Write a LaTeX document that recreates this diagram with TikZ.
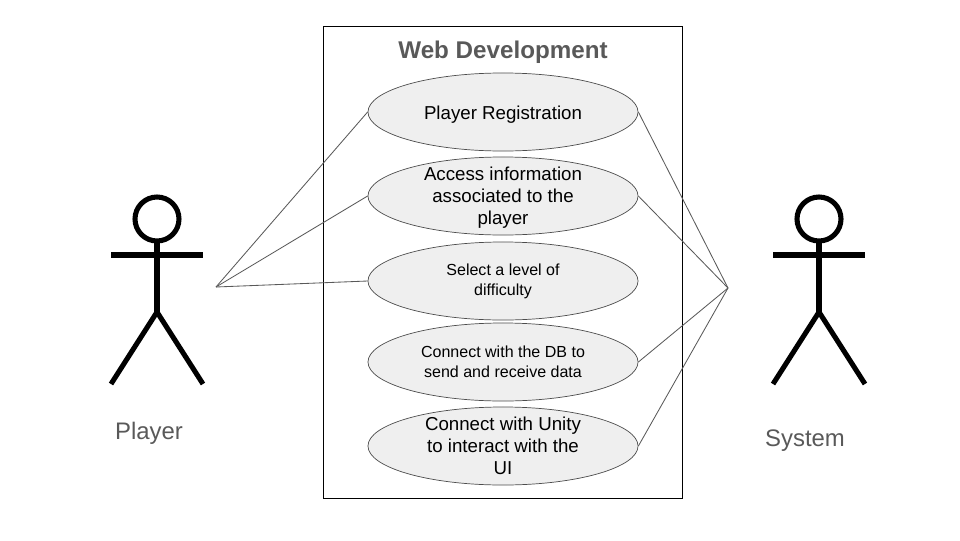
\documentclass[tikz,border=0pt]{standalone}
\usepackage{fontspec}
\setmainfont{Liberation Sans}
\usetikzlibrary{shapes.geometric}
\definecolor{labelgray}{HTML}{595959}
\definecolor{usefill}{HTML}{EFEFEF}
\tikzset{
	usecase/.style={
			ellipse, draw=black!70, fill=usefill, line width=0.5pt,
			minimum width=6.75cm, minimum height=1.95cm, inner xsep=0pt, inner ysep=-0.6cm,
			align=center, font=\fontsize{13.3}{15.7}\selectfont
		},
	smallcase/.style={usecase, font=\fontsize{11.4}{14.2}\selectfont},
	link/.style={draw=black!65, line width=0.6pt},
	actorlabel/.style={text=labelgray, font=\fontsize{17}{20}\selectfont},
	actor/.pic={
			\draw[line width=3.6pt] (0, -36) circle (22);
			\draw[line width=3.6pt] (0, -14) to (0, 57);
			\draw[line width=3.6pt] (-46, 0) to (46, 0);
			\draw[line width=3.6pt, line join=round] (-46, 129) to (0, 57) to (46, 129);
		}
}

\begin{document}
\begin{tikzpicture}[x=0.025cm, y=-0.025cm]
		\useasboundingbox (0, 0) rectangle (960, 540);

		\draw[line width=0.6pt] (323, 26) rectangle (682, 498);
		\node[text=labelgray, font=\bfseries\fontsize{17.2}{20}\selectfont] (title) at (503, 52) {Web Development};

		\node[usecase] (registration) at (503, 112) {\rule{0pt}{13.8pt}Player Registration};
		\node[usecase] (access) at (503, 196) {\rule{0pt}{12.4pt}Access information\\associated to the\\player};
		\node[smallcase] (level) at (503, 281) {Select a level of\\difficulty};
		\node[smallcase] (database) at (503, 362) {Connect with the DB to\\send and receive data};
		\node[usecase] (unity) at (503, 446) {Connect with Unity\\to interact with the\\UI};

		\pic at (157, 255) {actor};
		\pic at (819, 255) {actor};
		\node[actorlabel] (player) at (149, 433) {Player};
		\node[actorlabel] (system) at (805, 441) {System};

		\coordinate (playerend) at (216, 287);
		\coordinate (systemend) at (728, 288);

		\draw[link] (playerend) to (registration.west);
		\draw[link] (playerend) to (access.west);
		\draw[link] (playerend) to (level.west);
		\draw[link] (systemend) to (registration.east);
		\draw[link] (systemend) to (access.east);
		\draw[link] (systemend) to (database.east);
		\draw[link] (systemend) to (unity.east);
\end{tikzpicture}
\end{document}
